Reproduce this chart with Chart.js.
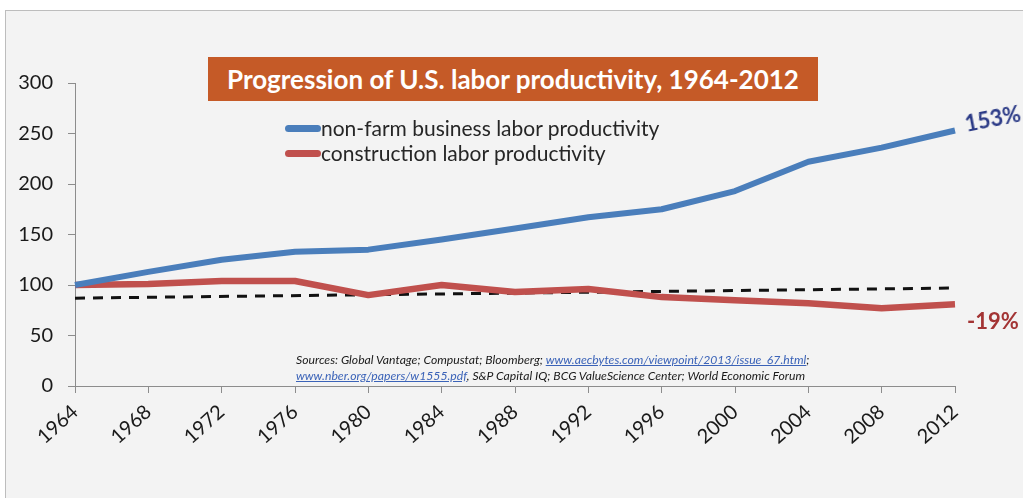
<!DOCTYPE html>
<html>
<head>
<meta charset="utf-8">
<script src="https://cdn.jsdelivr.net/npm/chart.js@4/dist/chart.umd.min.js"></script>
<style>
  html, body { margin: 0; padding: 0; background: #ffffff; width: 1023px; height: 498px; overflow: hidden; }
  #frame { position: absolute; left: 5px; top: 10px; width: 1100px; height: 600px; background: #f3f3f3; border-left: 1px solid #bdbdbd; border-top: 1px solid #bdbdbd; }
  #c { position: absolute; left: 0; top: 0; }
  #title { position: absolute; left: 208px; top: 57px; width: 610px; height: 44px; background: #c55a27; color: #fff; font-family: Lato, "Liberation Sans", sans-serif; font-weight: bold; font-size: 26px; line-height: 44px; text-align: center; white-space: nowrap; }
  #legend { position: absolute; left: 285px; top: 115px; font-family: Lato, "Liberation Sans", sans-serif; font-size: 21px; color: #262626; }
  .li { height: 25px; line-height: 25px; white-space: nowrap; }
  .sw { display: inline-block; width: 36px; height: 7px; border-radius: 4px; vertical-align: middle; margin-right: 0px; position: relative; top: -2px; }
  #sources { position: absolute; left: 296px; top: 352px; font-family: Lato, "Liberation Sans", sans-serif; font-style: italic; font-size: 12.2px; color: #1a1a1a; line-height: 16px; white-space: nowrap; }
  #sources a { color: #3b63b8; text-decoration: underline; }
  .pct { position: absolute; font-family: Lato, "Liberation Sans", sans-serif; font-weight: bold; font-size: 22px; white-space: nowrap; }
</style>
</head>
<body>
<div id="frame"></div>
<canvas id="c" width="1023" height="498"></canvas>
<div id="title">Progression of U.S. labor productivity, 1964-2012</div>
<div id="legend"></div>
<div id="sources">Sources: Global Vantage; Compustat; Bloomberg; <a>www.aecbytes.com/viewpoint/2013/issue_67.html</a>;<br><a>www.nber.org/papers/w1555.pdf</a>, S&amp;P Capital IQ; BCG ValueScience Center; World Economic Forum</div>
<div class="pct" id="p1" style="left:965px; top:110px; color:#2b3a86; transform: rotate(-11deg); transform-origin: left center;">153%</div>
<div class="pct" id="p2" style="left:967px; top:307px; color:#a33434;">-19%</div>
<script>
const years = ['1964','1968','1972','1976','1980','1984','1988','1992','1996','2000','2004','2008','2012'];
const nonFarm = [100,113,125,133,135,145,156,167,175,193,222,236,253];
const construction = [100,101,104,104,90,100,93,96,88,85,82,77,81];
const trend = [87,null,null,null,null,null,null,null,null,null,null,null,97];
const yTicks = [0,50,100,150,200,250,300];
const seriesLabels = ['non-farm business labor productivity','construction labor productivity'];
const colors = ['#4a7ebb','#c0504d'];

const AX = 'Lato, "Liberation Sans", sans-serif';
const chart = new Chart(document.getElementById('c'), {
  type: 'line',
  data: {
    labels: years,
    datasets: [
      { label: seriesLabels[0], data: nonFarm, borderColor: colors[0], borderWidth: 6, pointRadius: 0, tension: 0, borderCapStyle: 'butt', borderJoinStyle: 'round' },
      { label: seriesLabels[1], data: construction, borderColor: colors[1], borderWidth: 6.5, pointRadius: 0, tension: 0, borderCapStyle: 'butt', borderJoinStyle: 'round' },
      { label: 'trend', data: trend, borderColor: '#111', borderWidth: 3, borderDash: [10, 8], pointRadius: 0, spanGaps: true, tension: 0 }
    ]
  },
  options: {
    responsive: false,
    animation: false,
    devicePixelRatio: 1,
    layout: { padding: { left: 0, right: 68, top: 83, bottom: 0 } },
    plugins: { legend: { display: false }, tooltip: { enabled: false } },
    scales: {
      x: {
        type: 'category',
        offset: false,
        grid: { display: true, drawOnChartArea: false, drawTicks: true, tickLength: 7, color: '#8c8c8c', offset: false },
        border: { display: true, color: '#8c8c8c', width: 1 },
        ticks: { color: '#1a1a1a', font: { family: AX, size: 20 }, minRotation: 42, maxRotation: 42, autoSkip: false, padding: 7 },
        afterFit: s => { s.height = 112; }
      },
      y: {
        min: 0, max: 300,
        afterBuildTicks: s => { s.ticks = yTicks.map(v => ({ value: v })); },
        grid: { display: true, drawOnChartArea: false, drawTicks: true, tickLength: 7, color: '#8c8c8c' },
        border: { display: true, color: '#8c8c8c', width: 1 },
        ticks: { color: '#1a1a1a', font: { family: AX, size: 20 }, padding: 15 },
        afterFit: s => { s.width = 75; }
      }
    }
  }
});

const lg = document.getElementById('legend');
seriesLabels.forEach((t, i) => {
  const d = document.createElement('div');
  d.className = 'li';
  d.innerHTML = '<span class="sw" style="background:' + colors[i] + '"></span>' + t;
  lg.appendChild(d);
});
</script>
</body>
</html>
